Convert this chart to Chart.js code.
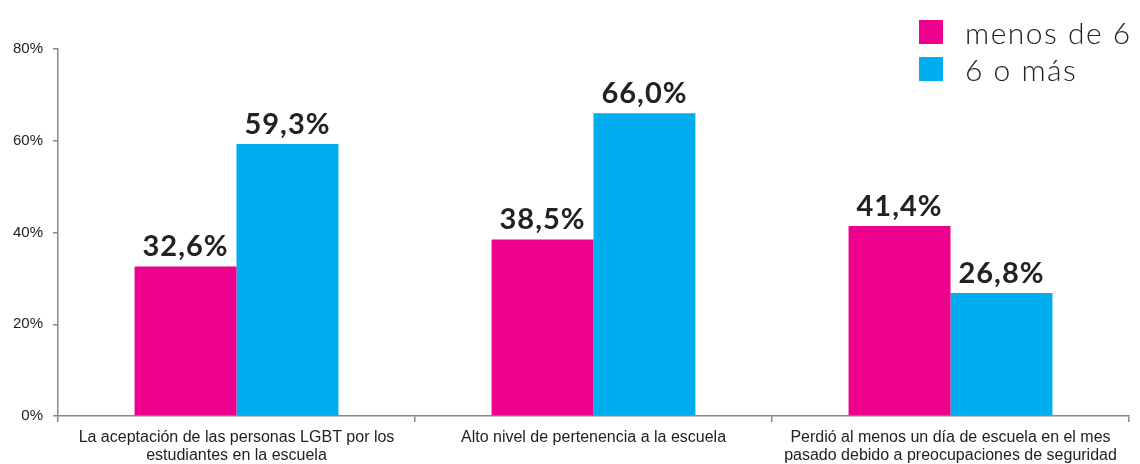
<!DOCTYPE html>
<html>
<head>
<meta charset="utf-8">
<script src="https://cdn.jsdelivr.net/npm/chart.js@4"></script>
<style>
  html, body { margin: 0; padding: 0; background: #fff; }
  #wrap { position: relative; width: 1140px; height: 464px; }
  #legend { position: absolute; left: 919px; top: 13px; font-family: Lato, "Open Sans", sans-serif; font-weight: 300; font-size: 30px; letter-spacing: 1.5px; color: #222; }
  #legend div { display: flex; align-items: center; height: 37px; white-space: nowrap; }
  #legend span.sw { display: inline-block; width: 24px; height: 24px; margin-right: 22px; }
</style>
</head>
<body>
<div id="wrap">
  <canvas id="chart" width="1140" height="464"></canvas>
  <div id="legend"></div>
</div>
<script>
const categories = [
  ["La aceptación de las personas LGBT por los", "estudiantes en la escuela"],
  "Alto nivel de pertenencia a la escuela",
  ["Perdió al menos un día de escuela en el mes", "pasado debido a preocupaciones de seguridad"]
];
const seriesNames = ["menos de 6", "6 o más"];
const menosDe6 = [32.6, 38.5, 41.4];
const seisOMas = [59.3, 66.0, 26.8];
const colors = ["#EC008C", "#00AEEF"];
const yTicks = [0, 20, 40, 60, 80];

const legend = document.getElementById("legend");
legend.innerHTML = seriesNames.map((n, i) =>
  `<div><span class="sw" style="background:${colors[i]}"></span>${n}</div>`).join("");

const valueLabels = {
  id: "valueLabels",
  afterDatasetsDraw(chart) {
    const ctx = chart.ctx;
    ctx.save();
    ctx.font = "bold 29px Lato, 'Open Sans', sans-serif";
    ctx.letterSpacing = "1px";
    ctx.fillStyle = "#222";
    ctx.textAlign = "center";
    ctx.textBaseline = "alphabetic";
    chart.data.datasets.forEach((ds, di) => {
      chart.getDatasetMeta(di).data.forEach((bar, i) => {
        ctx.fillText(ds.data[i].toFixed(1).replace(".", ",") + "%", bar.x, bar.y - 10);
      });
    });
    ctx.restore();
  }
};

new Chart(document.getElementById("chart").getContext("2d"), {
  type: "bar",
  data: {
    labels: categories,
    datasets: [
      { label: seriesNames[0], data: menosDe6, backgroundColor: colors[0] },
      { label: seriesNames[1], data: seisOMas, backgroundColor: colors[1] }
    ]
  },
  options: {
    responsive: false,
    animation: false,
    layout: { padding: { top: 49, right: 11, bottom: 0, left: 0 } },
    categoryPercentage: 0.571,
    barPercentage: 1,
    plugins: { legend: { display: false }, tooltip: { enabled: false } },
    scales: {
      x: {
        offset: true,
        grid: { offset: true, drawOnChartArea: false, drawTicks: true, tickLength: 6, color: "#888", lineWidth: 1.5 },
        border: { color: "#888", width: 1.5 },
        ticks: { color: "#222", font: { family: "'Liberation Sans', Arial, sans-serif", size: 16, lineHeight: 1.15 }, padding: 6, maxRotation: 0, autoSkip: false },
        afterFit(scale) { scale.height = 48; }
      },
      y: {
        min: 0, max: 80,
        afterBuildTicks(scale) { scale.ticks = yTicks.map(v => ({ value: v })); },
        grid: { drawOnChartArea: false, drawTicks: true, tickLength: 5, color: "#888", lineWidth: 1.5 },
        border: { color: "#888", width: 1.5 },
        ticks: { color: "#222", font: { family: "'Liberation Sans', Arial, sans-serif", size: 15 }, padding: 10, callback: v => v + "%" },
        afterFit(scale) { scale.width = 58; }
      }
    }
  },
  plugins: [valueLabels]
});
</script>
</body>
</html>
